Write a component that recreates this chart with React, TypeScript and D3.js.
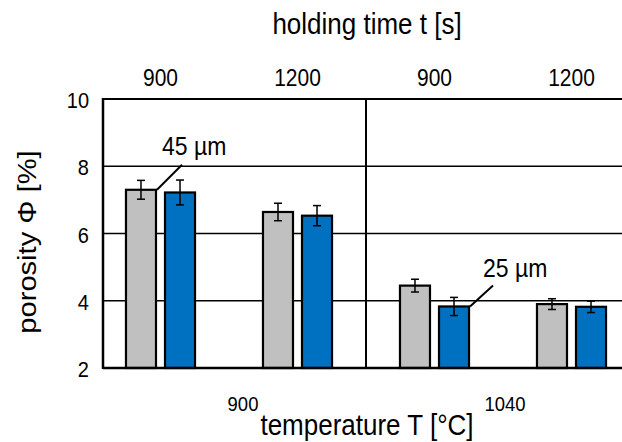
import React from 'react';
import * as d3 from 'd3';

// holding times (top axis) and temperatures (bottom axis)
const holdingTimes = ['900', '1200', '900', '1200'];
const temperatures = ['900', '1040'];
const groups = ['900|900', '900|1200', '1040|900', '1040|1200'];
const series = ['45 µm', '25 µm'];

const porosity45 = [7.3, 6.64, 4.45, 3.9];
const error45 = [0.28, 0.26, 0.19, 0.16];
const porosity25 = [7.22, 6.53, 3.83, 3.82];
const error25 = [0.37, 0.3, 0.27, 0.17];

const yTicks = [2, 4, 6, 8, 10];
const colors = ['#c0c0c0', '#0070c0'];

const W = 622;
const H = 442;
const FONT = '"Liberation Sans", Arial, sans-serif';
const STRETCH = 1.12; // source image text is a little taller than wide

const Txt: React.FC<{ x: number; y: number; size: number; anchor?: string; rotate?: number; children: React.ReactNode }> =
  ({ x, y, size, anchor = 'start', rotate = 0, children }) => (
    <text
      transform={`translate(${x},${y}) rotate(${rotate}) scale(${rotate ? STRETCH : 1},${rotate ? 1 : STRETCH})`}
      textAnchor={anchor} fontSize={size} fill="#000">
      {children}
    </text>
  );

const App: React.FC = () => {
  const left = 103;
  const top = 99;
  const bottom = 368;

  const x = d3.scaleBand<string>()
    .domain(groups)
    .range([92, 640])
    .paddingInner(0.496)
    .paddingOuter(0.248);

  const xs = d3.scaleBand<string>()
    .domain(series)
    .range([0, x.bandwidth()])
    .paddingInner(0.2308);

  const y = d3.scaleLinear().domain([2, 10]).range([bottom, top]);

  const values = [porosity45, porosity25];
  const errors = [error45, error25];

  const bars = groups.flatMap((g, i) =>
    series.map((s, j) => ({ g, s, j, v: values[j][i], e: errors[j][i] }))
  );

  // divider between the two temperature blocks
  const divX = Math.round((x(groups[1])! + x.bandwidth() + x(groups[2])!) / 2);

  const tempCenter = (k: number) =>
    (x(groups[k * 2])! + x(groups[k * 2 + 1])! + x.bandwidth()) / 2;

  const barRight = (gi: number, si: number) =>
    x(groups[gi])! + xs(series[si])! + xs.bandwidth();

  const a1x = barRight(0, 0);
  const a1y = y(porosity45[0]);
  const a2x = barRight(2, 1);
  const a2y = y(porosity25[2]);

  return (
    <svg width={W} height={H} style={{ position: 'absolute', left: 0, top: 0, background: '#fff' }}
      fontFamily={FONT}>
      <rect width={W} height={H} fill="#fff" />

      {/* grid lines */}
      {yTicks.filter(t => t > 2 && t < 10).map(t => (
        <line key={t} x1={left} x2={W} y1={y(t)} y2={y(t)} stroke="#000" strokeWidth={1.5} />
      ))}
      <line x1={left} x2={W} y1={y(10)} y2={y(10)} stroke="#000" strokeWidth={2} />

      {/* bars */}
      {bars.map(b => {
        const bx = x(b.g)! + xs(b.s)!;
        const cx = bx + xs.bandwidth() / 2;
        return (
          <g key={b.g + b.s}>
            <rect x={bx} y={y(b.v)} width={xs.bandwidth()} height={y(2) - y(b.v)}
              fill={colors[b.j]} stroke="#000" strokeWidth={2.2} />
            <line x1={cx} x2={cx} y1={y(b.v + b.e)} y2={y(b.v - b.e)} stroke="#000" strokeWidth={1.5} />
            <line x1={cx - 4} x2={cx + 4} y1={y(b.v + b.e)} y2={y(b.v + b.e)} stroke="#000" strokeWidth={1.5} />
            <line x1={cx - 4} x2={cx + 4} y1={y(b.v - b.e)} y2={y(b.v - b.e)} stroke="#000" strokeWidth={1.5} />
          </g>
        );
      })}

      {/* axes */}
      <line x1={divX} x2={divX} y1={top} y2={bottom} stroke="#000" strokeWidth={2} />
      <line x1={left} x2={left} y1={top - 1} y2={bottom + 1} stroke="#000" strokeWidth={2.5} />
      <line x1={left} x2={W} y1={bottom} y2={bottom} stroke="#000" strokeWidth={2.5} />

      {/* y tick labels */}
      {yTicks.map(t => (
        <Txt key={t} x={89} y={y(t) + 9} anchor="end" size={20}>{t}</Txt>
      ))}
      <Txt x={36} y={242} rotate={-90} anchor="middle" size={26}>porosity Φ [%]</Txt>

      {/* top axis: holding time */}
      {holdingTimes.map((t, i) => (
        <Txt key={i} x={x(groups[i])! + x.bandwidth() / 2} y={86} anchor="middle" size={21}>{t}</Txt>
      ))}
      <Txt x={367} y={34} anchor="middle" size={26}>holding time t [s]</Txt>

      {/* bottom axis: temperature */}
      {temperatures.map((t, k) => (
        <Txt key={t} x={tempCenter(k) + (k === 0 ? 14 : 2)} y={411} anchor="middle" size={18.5}>{t}</Txt>
      ))}
      <Txt x={367} y={435} anchor="middle" size={26}>temperature T [°C]</Txt>

      {/* annotations */}
      <line x1={a1x + 1} y1={a1y} x2={a1x + 26} y2={a1y - 25} stroke="#000" strokeWidth={2} />
      <Txt x={a1x + 6} y={155} size={23}>{series[0]}</Txt>
      <line x1={a2x + 1} y1={a2y} x2={a2x + 24} y2={a2y - 21} stroke="#000" strokeWidth={2} />
      <Txt x={a2x + 14} y={277} size={23}>{series[1]}</Txt>
    </svg>
  );
};

export default App;
